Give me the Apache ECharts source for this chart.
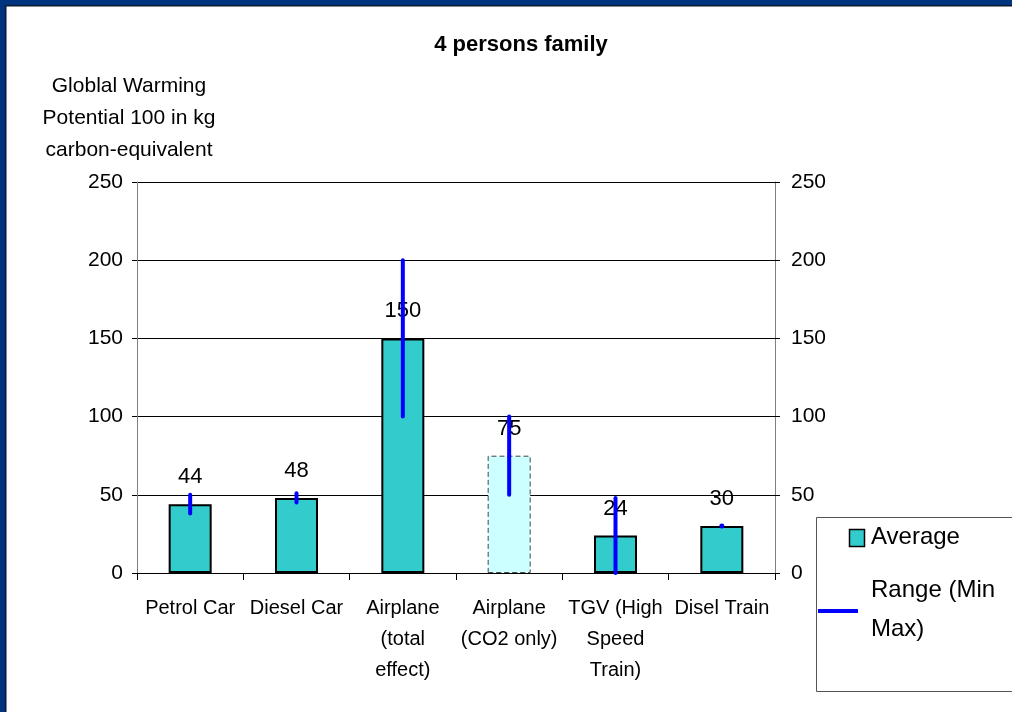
<!DOCTYPE html>
<html><head><meta charset="utf-8">
<script src="https://cdn.jsdelivr.net/npm/echarts@6/dist/echarts.min.js"></script>
<style>html,body{margin:0;padding:0;background:#fff}#c{width:1012px;height:712px}</style>
</head><body><div id="c"></div>
<script>
const categories = ['Petrol Car', 'Diesel Car', 'Airplane\n(total\neffect)', 'Airplane\n(CO2 only)', 'TGV (High\nSpeed\nTrain)', 'Disel Train'];
const averageValues = [44, 48, 150, 75, 24, 30];
const rangeMin = [38, 45, 100, 50, 0, 30];
const rangeMax = [50, 51, 200, 100, 48, 30];
const yTicks = [0, 50, 100, 150, 200, 250];
const estimatedIndex = 3; // Airplane (CO2 only) drawn pale with dashed outline

const FONT = "'Liberation Sans', Arial, sans-serif";
const chart = echarts.init(document.getElementById('c'), null, {renderer: 'canvas'});

const barData = averageValues.map((v, i) => i === estimatedIndex ? {
  value: v,
  itemStyle: {color: '#CCFFFF', borderColor: '#444', borderWidth: 1, borderType: [5, 3]}
} : v);

const rangeData = categories.map((c, i) => [i, rangeMin[i], rangeMax[i]]);

const yAxisCommon = {
  type: 'value',
  min: yTicks[0],
  max: yTicks[yTicks.length - 1],
  interval: yTicks[1] - yTicks[0],
  axisLine: {show: true, lineStyle: {color: '#808080', width: 1}},
  axisTick: {show: true, inside: false, length: 5, lineStyle: {color: '#000'}},
  axisLabel: {color: '#000', fontSize: 21, fontFamily: FONT}
};

chart.setOption({
  backgroundColor: '#fff',
  animation: false,
  title: {
    text: '4 persons family',
    left: 516, top: 29, textAlign: 'center',
    textStyle: {fontSize: 22, fontWeight: 'bold', color: '#000', fontFamily: FONT}
  },
  grid: {left: 137, right: 237, top: 182, bottom: 139, containLabel: false},
  xAxis: {
    type: 'category',
    data: categories,
    axisLine: {show: true, lineStyle: {color: '#000', width: 1}},
    axisTick: {show: true, alignWithLabel: false, length: 7, lineStyle: {color: '#000'}},
    axisLabel: {interval: 0, color: '#000', fontSize: 20, lineHeight: 31, margin: 20, fontFamily: FONT}
  },
  yAxis: [
    Object.assign({}, yAxisCommon, {
      position: 'left',
      name: 'Globlal Warming\nPotential 100 in kg\ncarbon-equivalent',
      nameLocation: 'end',
      nameGap: 16,
      nameTextStyle: {color: '#000', fontSize: 21, lineHeight: 32, align: 'center', verticalAlign: 'bottom', padding: [0, 16, 0, 0], fontFamily: FONT},
      axisLabel: Object.assign({}, yAxisCommon.axisLabel, {margin: 14}),
      splitLine: {show: true, lineStyle: {color: '#000', width: 1}}
    }),
    Object.assign({}, yAxisCommon, {
      position: 'right',
      axisLabel: Object.assign({}, yAxisCommon.axisLabel, {margin: 16}),
      splitLine: {show: false}
    })
  ],
  series: [
    {
      name: 'Average',
      type: 'bar',
      data: barData,
      barWidth: 43,
      z: 2,
      itemStyle: {color: '#33CCCC', borderColor: '#000', borderWidth: 2},
      label: {show: true, position: 'top', distance: 16, color: '#000', fontSize: 22, fontFamily: FONT}
    },
    {
      name: 'Range (Min Max)',
      type: 'custom',
      z: 5,
      data: rangeData,
      encode: {x: 0, y: [1, 2]},
      renderItem: function (params, api) {
        const p1 = api.coord([api.value(0), api.value(1)]);
        const p2 = api.coord([api.value(0), api.value(2)]);
        if (Math.abs(p1[1] - p2[1]) < 1) {
          return {type: 'circle', shape: {cx: p1[0], cy: p1[1], r: 2.5}, style: {fill: '#0000FF'}};
        }
        return {
          type: 'line',
          shape: {x1: p1[0], y1: p1[1], x2: p2[0], y2: p2[1]},
          style: {stroke: '#0000FF', lineWidth: 4, lineCap: 'round'}
        };
      }
    }
  ],
  graphic: [
    {type: 'rect', shape: {x: 0, y: 0, width: 1012, height: 5}, style: {fill: '#00347F'}, z: 100},
    {type: 'rect', shape: {x: 0, y: 5, width: 1012, height: 1.5}, style: {fill: '#101830'}, z: 100},
    {type: 'rect', shape: {x: 0, y: 0, width: 5, height: 712}, style: {fill: '#00347F'}, z: 100},
    {type: 'rect', shape: {x: 5, y: 5, width: 1.5, height: 707}, style: {fill: '#101830'}, z: 100},
    {type: 'rect', shape: {x: 816.5, y: 517.5, width: 220, height: 174}, style: {fill: '#fff', stroke: '#555', lineWidth: 1}, z: 50},
    {type: 'rect', shape: {x: 849.5, y: 529.5, width: 15, height: 17}, style: {fill: '#33CCCC', stroke: '#000', lineWidth: 1.5}, z: 51},
    {type: 'text', x: 871, y: 537, style: {text: 'Average', fill: '#000', fontSize: 24, fontFamily: FONT, verticalAlign: 'middle'}, z: 51},
    {type: 'line', shape: {x1: 818, y1: 611, x2: 858, y2: 611}, style: {stroke: '#0000FF', lineWidth: 4}, z: 51},
    {type: 'text', x: 871, y: 610, style: {text: 'Range (Min\nMax)', fill: '#000', fontSize: 24, lineHeight: 39, fontFamily: FONT, verticalAlign: 'middle'}, z: 51}
  ]
});
</script>
</body></html>
